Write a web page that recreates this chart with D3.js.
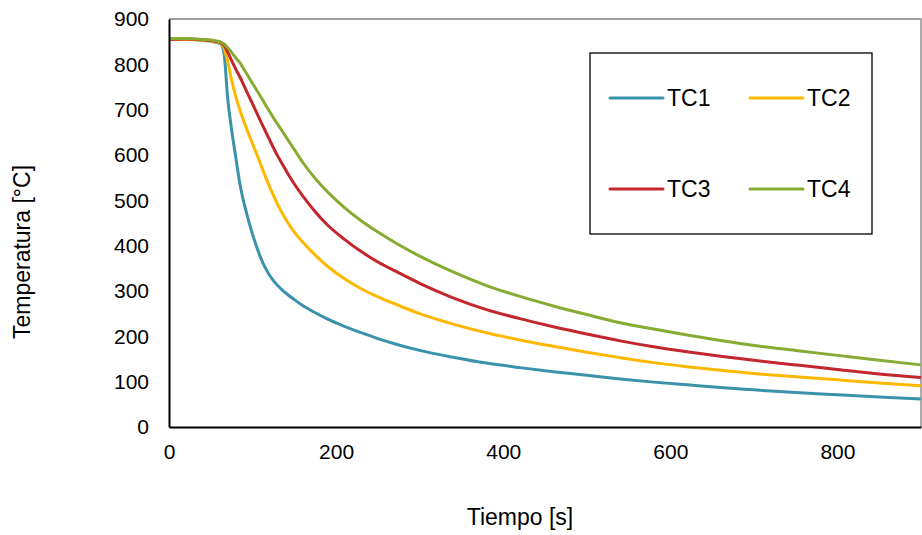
<!DOCTYPE html>
<html><head><meta charset="utf-8">
<script src="https://cdn.jsdelivr.net/npm/d3@7"></script>
<style>body{margin:0;background:#fff}svg{display:block;font-family:"Liberation Sans",Arial,sans-serif}</style>
</head><body><svg id="c" width="922" height="535"></svg>
<script>
const time = [0,20,40,55,62,66,70,75,80,85,90,95,100,105,110,115,120,125,130,135,140,150,160,175,190,210,230,250,275,300,340,380,420,460,500,540,580,620,660,700,750,800,850,900];
const tc1 = [855,856,853,849,845,822,730,655,594,535,492,457,425,397,372,352,336,323,312,303,295,281,268,252,238,222,208,195,181,169,154,141,131,122,114,106,99,93,87,82,76,71,66,62];
const tc2 = [855,855,853,850,847,835,808,765,728,698,672,648,625,602,578,554,532,511,491,473,457,430,408,379,354,327,305,287,268,250,227,208,192,178,165,153,142,133,125,118,111,104,97,91];
const tc3 = [855,856,854,851,848,842,828,808,789,772,752,732,713,693,673,654,635,616,598,582,566,536,510,475,445,414,387,364,340,317,285,259,239,221,205,190,177,166,156,147,137,127,117,109];
const tc4 = [857,857,855,852,849,845,837,826,814,803,788,773,758,743,728,712,697,682,668,654,640,612,584,548,518,484,455,430,402,377,342,312,288,267,248,230,216,203,191,180,169,158,147,137];
const seriesNames = ["TC1","TC2","TC3","TC4"];
const seriesValues = [tc1,tc2,tc3,tc4];
const colors = ["#3a93aa","#ffb800","#c3262d","#87ab33"];
const xTicks = [0,200,400,600,800];
const yTicks = [0,100,200,300,400,500,600,700,800,900];

const svg = d3.select("#c");
const L=169, R=921, T=19, B=427;
const x = d3.scaleLinear().domain([0,900]).range([L,R]);
const y = d3.scaleLinear().domain([0,900]).range([B,T]);

svg.append("path").attr("d",`M${L},${T}H${R}V${B}`).attr("fill","none").attr("stroke","#808080").attr("stroke-width",1.3);

const line = d3.line().x((d,i)=>x(time[i])).y(d=>y(d)).curve(d3.curveMonotoneX);
seriesValues.forEach((vals,k)=>{
  svg.append("path").datum(vals).attr("d",line).attr("fill","none")
    .attr("stroke",colors[k]).attr("stroke-width",3).attr("stroke-linejoin","round");
});

const xa = svg.append("g").attr("transform",`translate(0,${B})`).call(d3.axisBottom(x).tickValues(xTicks).tickSize(0).tickPadding(17));
const ya = svg.append("g").attr("transform",`translate(${L},0)`).call(d3.axisLeft(y).tickValues(yTicks).tickSize(0).tickPadding(20));
[xa,ya].forEach(a=>{
  a.select(".domain").attr("stroke","#000").attr("stroke-width",2);
  a.selectAll("text").attr("font-size",21).attr("fill","#000").attr("font-family","Liberation Sans, Arial, sans-serif");
});

svg.append("text").attr("x",520).attr("y",525).attr("text-anchor","middle").attr("font-size",23).text("Tiempo [s]");
svg.append("text").attr("transform","translate(30,252) rotate(-90)").attr("text-anchor","middle").attr("font-size",23).text("Temperatura [°C]");

const lg = svg.append("g");
lg.append("rect").attr("x",590).attr("y",53).attr("width",282).attr("height",181).attr("fill","#fff").attr("stroke","#000").attr("stroke-width",1.3);
const pos = [[610,98],[750,98],[610,189],[750,189]];
seriesNames.forEach((n,k)=>{
  const [px,py]=pos[k];
  lg.append("line").attr("x1",px).attr("x2",px+53).attr("y1",py).attr("y2",py).attr("stroke",colors[k]).attr("stroke-width",3).attr("stroke-linecap","round");
  lg.append("text").attr("x",px+57).attr("y",py+8).attr("font-size",23).text(n);
});
</script></body></html>
